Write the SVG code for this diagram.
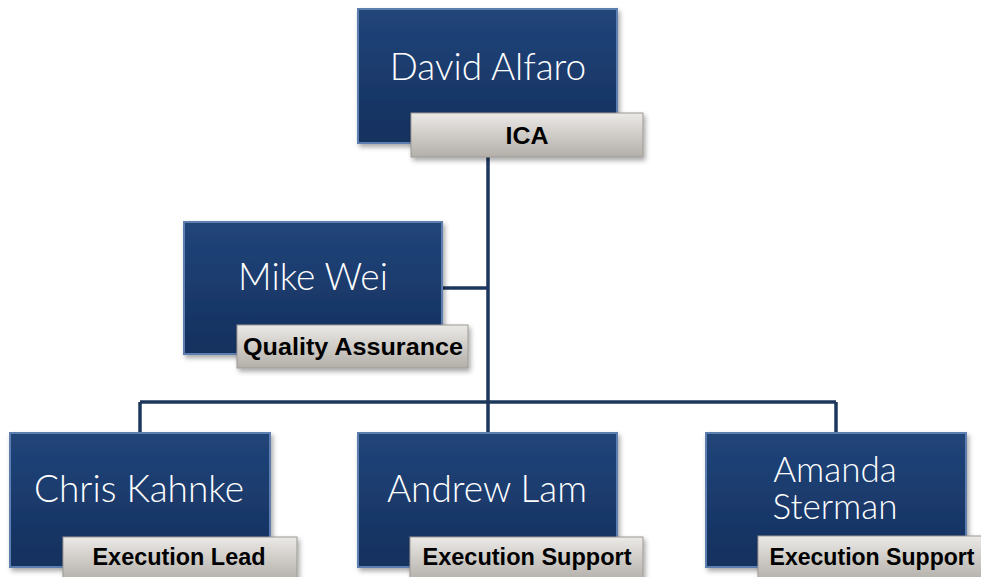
<svg xmlns="http://www.w3.org/2000/svg" width="981" height="577" viewBox="0 0 981 577">
<defs>
<linearGradient id="navy" x1="0" y1="0" x2="0" y2="1">
<stop offset="0" stop-color="#21457a"/>
<stop offset="1" stop-color="#14305e"/>
</linearGradient>
<linearGradient id="gray" x1="0" y1="0" x2="0" y2="1">
<stop offset="0" stop-color="#ebe9e6"/>
<stop offset="1" stop-color="#b3afa9"/>
</linearGradient>
<filter id="sh" x="-10%" y="-10%" width="130%" height="130%">
<feDropShadow dx="2" dy="3" stdDeviation="2.5" flood-color="#000" flood-opacity="0.35"/>
</filter>
</defs>
<style>
.box{fill:url(#navy);stroke:#5d7fb0;stroke-width:2;filter:url(#sh)}
.lab{fill:url(#gray);stroke:#9c9893;stroke-width:1;filter:url(#sh)}
.name{font-family:Lato,"Open Sans",sans-serif;font-weight:300;font-size:37px;fill:#ffffff;text-anchor:middle}
.role{font-family:"Liberation Sans",Arial,sans-serif;font-weight:bold;font-size:24px;fill:#000;text-anchor:middle}
.con{fill:none;stroke:#1c375c;stroke-width:3.5}
</style>
<rect width="981" height="577" fill="#ffffff"/>
<g id="connectors">
<path class="con" d="M488 157 V432"/>
<path class="con" d="M442 288 H488"/>
<path class="con" d="M140 402 H836"/>
<path class="con" d="M140 402 V433"/>
<path class="con" d="M836 402 V433"/>
</g>
<g id="david">
<rect class="box" x="358" y="9" width="259" height="134"/>
<text class="name" x="488" y="80">David Alfaro</text>
<rect class="lab" x="411" y="113" width="232" height="44"/>
<text class="role" x="527" y="144" textLength="43" lengthAdjust="spacingAndGlyphs">ICA</text>
</g>
<g id="mike">
<rect class="box" x="184" y="222" width="258" height="132"/>
<text class="name" x="313" y="290">Mike Wei</text>
<rect class="lab" x="237" y="325" width="231" height="43"/>
<text class="role" x="353" y="355" textLength="220" lengthAdjust="spacingAndGlyphs">Quality Assurance</text>
</g>
<g id="chris">
<rect class="box" x="10" y="433" width="260" height="134"/>
<text class="name" x="139" y="502">Chris Kahnke</text>
<rect class="lab" x="63" y="537" width="234" height="44"/>
<text class="role" x="179" y="565" textLength="173" lengthAdjust="spacingAndGlyphs">Execution Lead</text>
</g>
<g id="andrew">
<rect class="box" x="358" y="433" width="259" height="134"/>
<text class="name" x="487" y="502">Andrew Lam</text>
<rect class="lab" x="410" y="537" width="233" height="44"/>
<text class="role" x="527" y="565" textLength="209" lengthAdjust="spacingAndGlyphs">Execution Support</text>
</g>
<g id="amanda">
<rect class="box" x="706" y="433" width="260" height="134"/>
<text class="name" style="font-size:35px"><tspan x="835" y="482">Amanda</tspan><tspan x="835" y="519">Sterman</tspan></text>
<rect class="lab" x="758" y="536" width="240" height="45"/>
<text class="role" x="872" y="565" textLength="205" lengthAdjust="spacingAndGlyphs">Execution Support</text>
</g>
</svg>
